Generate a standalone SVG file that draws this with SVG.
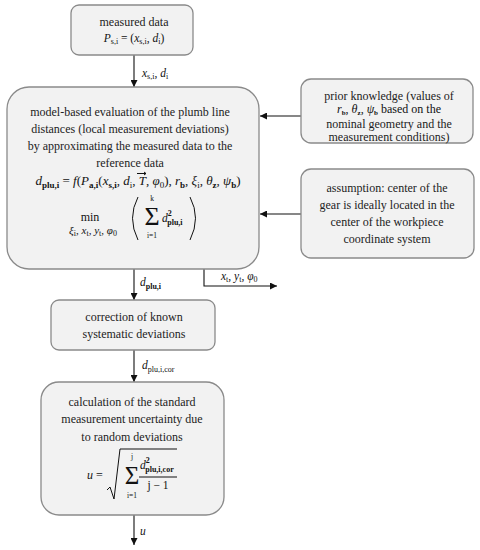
<svg xmlns="http://www.w3.org/2000/svg" width="480" height="550" viewBox="0 0 480 550">
<defs>
<style>
.box{fill:#f2f2f2;stroke:#8a8a8a;stroke-width:1.3}
.t{font-family:"Liberation Serif","DejaVu Serif",serif;font-size:12px;fill:#222;text-anchor:middle}
.m{font-family:"Liberation Serif","DejaVu Serif",serif;font-size:11.5px;fill:#111}
.f{font-size:13px}
.i{font-style:italic}
.s{font-size:8px}
.sb{font-size:8px;font-weight:bold}
.f .s,.f .sb{font-size:9px}
.ln{fill:none;stroke:#111;stroke-width:1.1}
.p{fill:none;stroke:#111;stroke-width:1}
</style>
<marker id="ah" viewBox="0 0 10 10" refX="10" refY="5" markerWidth="7" markerHeight="7" markerUnits="userSpaceOnUse" orient="auto">
<path d="M0,0 L10,5 L0,10 z" fill="#111"/>
</marker>
</defs>
<rect width="480" height="550" fill="#fff"/>

<g id="connectors">
<line class="ln" x1="134" y1="55" x2="134" y2="87" marker-end="url(#ah)"/>
<line class="ln" x1="134" y1="269" x2="134" y2="300" marker-end="url(#ah)"/>
<polyline class="ln" points="204,269 204,286 277,286" marker-end="url(#ah)"/>
<line class="ln" x1="301" y1="116" x2="260" y2="116" marker-end="url(#ah)"/>
<line class="ln" x1="301" y1="214" x2="260" y2="214" marker-end="url(#ah)"/>
<line class="ln" x1="134" y1="350" x2="134" y2="382" marker-end="url(#ah)"/>
<line class="ln" x1="134" y1="515" x2="134" y2="545" marker-end="url(#ah)"/>
<text class="m" x="142" y="77"><tspan class="i">x</tspan><tspan class="s" dy="2">s,i</tspan><tspan dy="-2">, </tspan><tspan class="i">d</tspan><tspan class="s" dy="2">i</tspan></text>
<text class="m" x="140" y="286"><tspan class="i">d</tspan><tspan class="sb" dy="3">plu,i</tspan></text>
<text class="m" x="221" y="280"><tspan class="i">x</tspan><tspan class="s" dy="2">t</tspan><tspan dy="-2">, </tspan><tspan class="i">y</tspan><tspan class="s" dy="2">t</tspan><tspan dy="-2">, </tspan><tspan class="i">φ</tspan><tspan class="s" dy="2">0</tspan></text>
<text class="m" x="142" y="369"><tspan class="i">d</tspan><tspan class="s" dy="3">plu,i,cor</tspan></text>
<text class="m i" x="140" y="535">u</text>
</g>

<g id="measured-data">
<rect class="box" x="71" y="5" width="122" height="50" rx="8"/>
<text class="t" x="134" y="26">measured data</text>
<text class="m" x="134" y="42" text-anchor="middle"><tspan class="i">P</tspan><tspan class="s" dy="2">s,i</tspan><tspan dy="-2"> = (</tspan><tspan class="i">x</tspan><tspan class="s" dy="2">s,i</tspan><tspan dy="-2">, </tspan><tspan class="i">d</tspan><tspan class="s" dy="2">i</tspan><tspan dy="-2">)</tspan></text>
</g>

<g id="model-evaluation">
<rect class="box" x="7" y="87" width="252" height="182" rx="22"/>
<text class="t" x="130" y="116">model-based evaluation of the plumb line</text>
<text class="t" x="130" y="133">distances (local measurement deviations)</text>
<text class="t" x="130" y="150">by approximating the measured data to the</text>
<text class="t" x="130" y="167">reference data</text>
<text class="m f" x="138" y="185" text-anchor="middle"><tspan class="i">d</tspan><tspan class="sb" dy="3">plu,i</tspan><tspan dy="-3"> = </tspan><tspan class="i">f</tspan><tspan>(</tspan><tspan class="i">P</tspan><tspan class="sb" dy="3">a,i</tspan><tspan dy="-3">(</tspan><tspan class="i">x</tspan><tspan class="sb" dy="3">s,i</tspan><tspan dy="-3">, </tspan><tspan class="i">d</tspan><tspan class="s" dy="3">i</tspan><tspan dy="-3">, </tspan><tspan class="i">T</tspan><tspan>, </tspan><tspan class="i">φ</tspan><tspan class="s" dy="3">0</tspan><tspan dy="-3">), </tspan><tspan class="i">r</tspan><tspan class="sb" dy="3">b</tspan><tspan dy="-3">, </tspan><tspan class="i">ξ</tspan><tspan class="s" dy="3">i</tspan><tspan dy="-3">, </tspan><tspan class="i">θ</tspan><tspan class="sb" dy="3">z</tspan><tspan dy="-3">, </tspan><tspan class="i">ψ</tspan><tspan class="sb" dy="3">b</tspan><tspan dy="-3">)</tspan></text>
<path class="p" d="M137,173.5 L146,173.5 M144,172 L146,173.5 L144,175"/>
<text class="m" x="90" y="221" text-anchor="middle" style="font-size:12px">min</text>
<text class="m" x="93" y="234" text-anchor="middle" style="font-size:11px"><tspan class="i">ξ</tspan><tspan class="s" dy="2" style="font-size:8px">i</tspan><tspan dy="-2">, </tspan><tspan class="i">x</tspan><tspan class="s" dy="2" style="font-size:8px">t</tspan><tspan dy="-2">, </tspan><tspan class="i">y</tspan><tspan class="s" dy="2" style="font-size:8px">t</tspan><tspan dy="-2">, </tspan><tspan class="i">φ</tspan><tspan class="s" dy="2" style="font-size:8px">0</tspan></text>
<path class="p" d="M138,197 Q127,218 138,240"/>
<path class="p" d="M190,197 Q201,218 190,240"/>
<text class="m" x="152" y="225" text-anchor="middle" style="font-size:26px">Σ</text>
<text class="m" x="152" y="201" text-anchor="middle" style="font-size:7.5px">k</text>
<text class="m" x="152" y="238" text-anchor="middle" style="font-size:7.5px">i=1</text>
<text class="m" x="162" y="222"><tspan class="i">d</tspan><tspan class="sb" dy="-6">2</tspan><tspan class="sb" dx="-4.5" dy="9">plu,i</tspan></text>
</g>

<g id="prior-knowledge">
<rect class="box" x="301" y="79" width="172" height="64" rx="10"/>
<text class="t" x="389" y="99.5">prior knowledge (values of</text>
<text class="m" x="389" y="113" text-anchor="middle" style="font-size:12px"><tspan class="i">r</tspan><tspan class="sb" dy="1.5" style="font-size:7px">b</tspan><tspan dy="-1.5">, </tspan><tspan class="i">θ</tspan><tspan class="sb" dy="1.5" style="font-size:7px">z</tspan><tspan dy="-1.5">, </tspan><tspan class="i">ψ</tspan><tspan class="sb" dy="1.5" style="font-size:7px">b</tspan><tspan dy="-1.5"> based on the</tspan></text>
<text class="t" x="389" y="127.5">nominal geometry and the</text>
<text class="t" x="389" y="141">measurement conditions)</text>
</g>

<g id="assumption">
<rect class="box" x="301" y="169" width="173" height="89" rx="10"/>
<text class="t" x="387" y="192">assumption: center of the</text>
<text class="t" x="387" y="209">gear is ideally located in the</text>
<text class="t" x="387" y="226">center of the workpiece</text>
<text class="t" x="387" y="243">coordinate system</text>
</g>

<g id="correction">
<rect class="box" x="51" y="300" width="164" height="50" rx="8"/>
<text class="t" x="134" y="321">correction of known</text>
<text class="t" x="134" y="338">systematic deviations</text>
</g>

<g id="uncertainty">
<rect class="box" x="41" y="382" width="183" height="133" rx="18"/>
<text class="t" x="132" y="406">calculation of the standard</text>
<text class="t" x="132" y="423">measurement uncertainty due</text>
<text class="t" x="132" y="441">to random deviations</text>
<text class="m" x="87" y="479" style="font-size:12px"><tspan class="i">u</tspan> =</text>
<path class="p" d="M107,490 L110,487 L114,499 L120,449 L177,449"/>
<text class="m" x="132" y="484" text-anchor="middle" style="font-size:25px">Σ</text>
<text class="m" x="132" y="459" text-anchor="middle" style="font-size:7.5px">j</text>
<text class="m" x="132" y="498" text-anchor="middle" style="font-size:7.5px">i=1</text>
<text class="m" x="140" y="469"><tspan class="i">d</tspan><tspan class="sb" dy="-6">2</tspan><tspan class="sb" dx="-4.5" dy="9">plu,i,cor</tspan></text>
<line class="p" x1="139" y1="477" x2="177" y2="477"/>
<text class="m" x="158" y="489" text-anchor="middle">j − 1</text>
</g>
</svg>
